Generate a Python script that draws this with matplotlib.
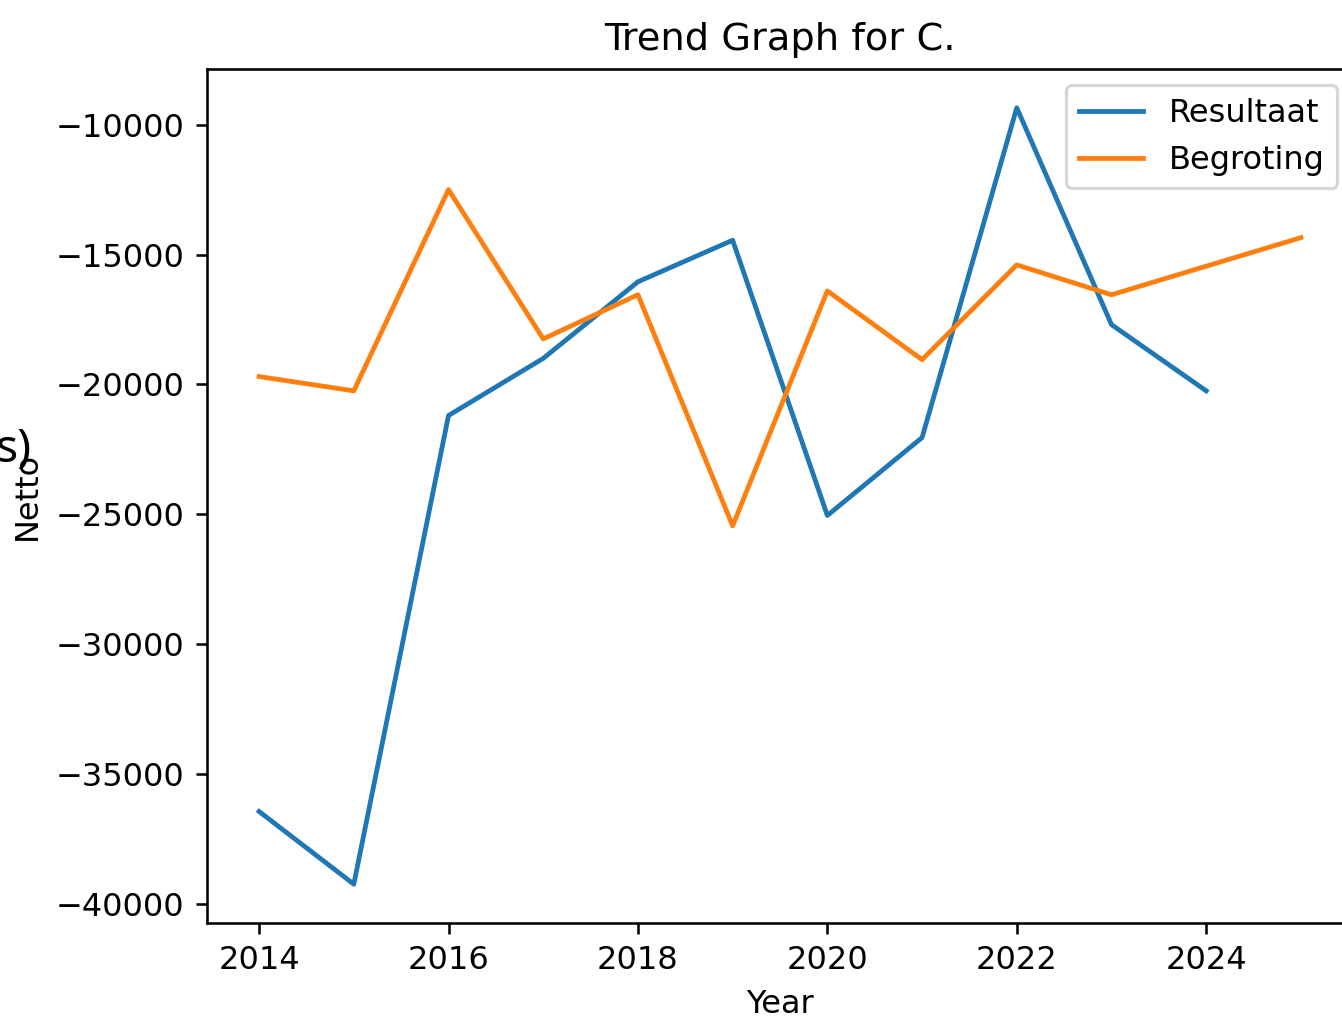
import matplotlib
matplotlib.use("Agg")
import matplotlib.pyplot as plt

# Resultaat (actuals) per year
years_resultaat = [2014, 2015, 2016, 2017, 2018, 2019, 2020, 2021, 2022, 2023, 2024]
resultaat = [-36450, -39250, -21200, -19000, -16050, -14450, -25050, -22050, -9350, -17700, -20250]

# Begroting (budget) per year
years_begroting = [2014, 2015, 2016, 2017, 2018, 2019, 2020, 2021, 2022, 2023, 2025]
begroting = [-19700, -20250, -12500, -18250, -16550, -25450, -16400, -19050, -15400, -16550, -14350]

DPI = 230
fig = plt.figure(figsize=(1342 / DPI, 1017 / DPI), dpi=DPI)
ax = fig.add_axes([207 / 1342, 1 - 923 / 1017, (1353 - 207) / 1342, (923 - 69) / 1017])

ax.plot(years_resultaat, resultaat, label='Resultaat')
ax.plot(years_begroting, begroting, label='Begroting')

ax.set_xlabel("Year")
ax.set_ylabel("Netto")
ax.set_title("Trend Graph for C.")
ax.legend(loc='upper right')

# stray overlay text at the left edge
fig.text(-0.003, 1 - 462 / 1017, "s)", fontsize=14.5, family=['Noto Sans', 'DejaVu Sans'],
         ha='left', va='baseline')

fig.savefig("out.png", dpi=DPI)
